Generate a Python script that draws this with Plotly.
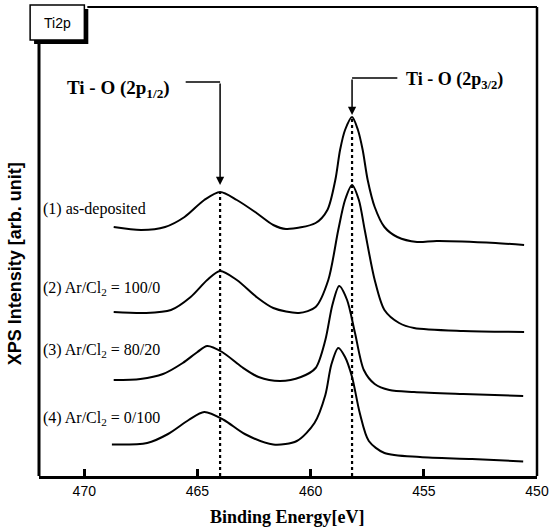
import plotly.graph_objects as go

# ---------------- data ----------------
energy_1 = [468.70, 467.48, 466.43, 465.57, 464.70, 464.00, 463.26, 462.39, 461.65, 461.09,
            459.78, 459.26, 458.91, 458.70, 458.48, 458.17, 457.91, 457.70, 457.48, 457.17,
            456.74, 456.17, 455.30, 454.43, 451.83, 450.57]
inten_1 = [249, 246, 249, 259, 276, 284, 276, 263, 251, 247,
           253, 266, 296, 326, 346, 359, 346, 326, 296, 269,
           249, 239, 234, 235, 233, 231]

energy_2 = [468.70, 467.30, 466.17, 465.30, 464.57, 464.00, 463.26, 462.39, 461.65, 460.52,
            459.78, 459.22, 458.78, 458.48, 458.17, 457.87, 457.61, 457.17, 456.74, 456.09,
            455.43, 453.26, 450.57]
inten_2 = [164, 163, 166, 179, 196, 205, 196, 179, 168, 163,
           169, 196, 246, 276, 291, 276, 246, 196, 166, 153,
           148, 145, 144]

energy_3 = [468.70, 467.52, 466.52, 465.65, 465.00, 464.57, 463.91, 463.04, 462.30, 461.35,
            460.43, 459.78, 459.35, 459.04, 458.74, 458.39, 458.04, 457.65, 457.17, 456.52,
            455.43, 453.26, 450.61]
inten_3 = [96, 97, 102, 113, 124, 130, 124, 109, 99, 95,
           99, 108, 136, 171, 190, 176, 143, 106, 92, 86,
           84, 82, 80]

energy_4 = [468.78, 467.22, 466.30, 465.39, 464.70, 463.83, 462.91, 461.65, 460.61, 459.83,
            459.35, 459.09, 458.78, 458.48, 458.17, 457.83, 457.43, 456.74, 455.17, 452.87,
            450.61]
inten_4 = [31.5, 33, 42, 56, 64, 56, 42, 31.5, 35, 53,
           81, 111, 128, 119, 99, 63, 35, 23, 19, 17,
           14.5]

series_labels = ["(1) as-deposited", "(2) Ar/Cl<sub>2</sub> = 100/0",
                 "(3) Ar/Cl<sub>2</sub> = 80/20", "(4) Ar/Cl<sub>2</sub> = 0/100"]
label_heights = [267, 188, 126, 58]

peak_energies = [464.0, 458.17]          # Ti-O 2p1/2, 2p3/2
peak_tops = [284, 359]
peak_names = ["Ti - O (2p<sub>1/2</sub>)", "Ti - O (2p<sub>3/2</sub>)"]

x_tickvals = [470, 465, 460, 455, 450]
x_ticktext = ["470", "465", "460", "455", "450"]

# ---------------- layout helpers (pixel -> paper) ----------------
W, H = 556, 530
ML, MR, MT, MB = 39, 12, 7, 54
PW, PH = W - ML - MR, H - MT - MB


def px(x):
    return (x - ML) / PW


def py(y):
    return (H - MB - y) / PH


SERIF = "Liberation Serif, Times New Roman, serif"
SANS = "Liberation Sans, Arial, sans-serif"

fig = go.Figure()
for e, i in [(energy_1, inten_1), (energy_2, inten_2), (energy_3, inten_3), (energy_4, inten_4)]:
    fig.add_trace(go.Scatter(x=e, y=i, mode="lines",
                             line=dict(color="black", width=2, shape="spline", smoothing=0.8),
                             showlegend=False, hoverinfo="skip"))

shapes = []
# dotted peak lines
for e, top in zip(peak_energies, peak_tops):
    shapes.append(dict(type="line", xref="x", yref="y", x0=e, x1=e, y0=0, y1=top,
                       line=dict(color="black", width=2.2, dash="dot")))

# frame
shapes += [
    dict(type="line", xref="paper", yref="paper", x0=0, x1=0, y0=0, y1=py(43),
         line=dict(color="black", width=3)),
    dict(type="line", xref="paper", yref="paper", x0=1, x1=1, y0=0, y1=1,
         line=dict(color="black", width=2.5)),
    dict(type="line", xref="paper", yref="paper", x0=px(88), x1=1, y0=1, y1=1,
         line=dict(color="black", width=2)),
    # Ti2p box shadow + box
    dict(type="rect", xref="paper", yref="paper", x0=px(34), x1=px(89), y0=py(44), y1=py(9),
         fillcolor="black", line=dict(width=0)),
    dict(type="rect", xref="paper", yref="paper", x0=px(30), x1=px(85), y0=py(40), y1=py(5),
         fillcolor="white", line=dict(color="black", width=1.5)),
]

# leader lines for peak labels
lead_h = [394, 398]
lead_end = [465.52, 456.17]
for e, h, end in zip(peak_energies, lead_h, lead_end):
    shapes.append(dict(type="line", xref="x", yref="y", x0=end, x1=e, y0=h, y1=h,
                       line=dict(color="black", width=1.5)))

annotations = []
arrow_tips = [291, 361]
for e, h, tip in zip(peak_energies, lead_h, arrow_tips):
    annotations.append(dict(x=e, y=tip, ax=e, ay=h, xref="x", yref="y", axref="x", ayref="y",
                            text="", showarrow=True, arrowhead=2, arrowsize=1.1,
                            arrowwidth=1.5, arrowcolor="black"))

# peak names
annotations.append(dict(x=px(65), y=py(89), xref="paper", yref="paper", text=peak_names[0],
                        showarrow=False, xanchor="left", yanchor="middle",
                        font=dict(family=SERIF, size=19, color="black", weight="bold")))
annotations.append(dict(x=px(409), y=py(81), xref="paper", yref="paper", text=peak_names[1],
                        showarrow=False, xanchor="left", yanchor="middle",
                        font=dict(family=SERIF, size=18, color="black", weight="bold")))

# series labels
for lab, h in zip(series_labels, label_heights):
    annotations.append(dict(x=px(41), y=h, xref="paper", yref="y", text=lab,
                            showarrow=False, xanchor="left", yanchor="middle",
                            font=dict(family=SERIF, size=16, color="black")))

# Ti2p box text
annotations.append(dict(x=px(57.5), y=py(23), xref="paper", yref="paper", text="Ti2p",
                        showarrow=False, xanchor="center", yanchor="middle",
                        font=dict(family=SANS, size=14, color="black")))

# axis titles
annotations.append(dict(x=px(15), y=py(264), xref="paper", yref="paper",
                        text="XPS Intensity [arb. unit]", textangle=-90,
                        showarrow=False, xanchor="center", yanchor="middle",
                        font=dict(family=SANS, size=18, color="black", weight="bold")))
annotations.append(dict(x=px(291), y=py(517), xref="paper", yref="paper",
                        text="Binding Energy[eV]",
                        showarrow=False, xanchor="center", yanchor="middle",
                        font=dict(family=SERIF, size=18, color="black", weight="bold")))

fig.update_layout(
    width=W, height=H,
    margin=dict(l=ML, r=MR, t=MT, b=MB),
    paper_bgcolor="white", plot_bgcolor="white",
    shapes=shapes, annotations=annotations,
    xaxis=dict(range=[472, 450], tickvals=x_tickvals, ticktext=x_ticktext,
               ticks="inside", ticklen=7, tickwidth=2.5, tickcolor="black",
               showline=True, linewidth=3, linecolor="black", mirror=False,
               showgrid=False, zeroline=False,
               tickfont=dict(family=SANS, size=14, color="black")),
    yaxis=dict(range=[0, PH], showticklabels=False, ticks="", showline=False,
               showgrid=False, zeroline=False),
)

fig.write_html("out.html")
